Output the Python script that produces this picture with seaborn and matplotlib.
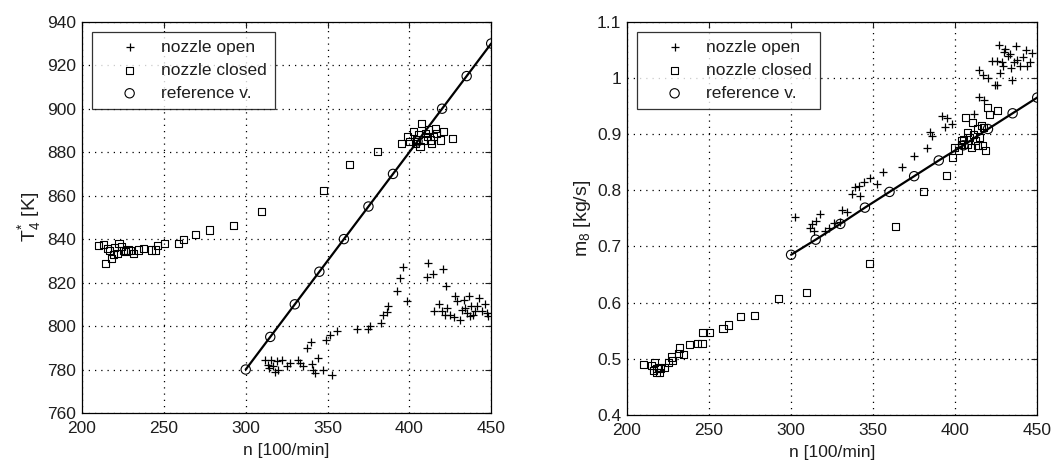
import matplotlib
matplotlib.use("Agg")
import matplotlib.pyplot as plt
import seaborn as sns

# ---- left panel: T4* vs n ----
t_open_n = [311.7, 313.8, 315.2, 316.4, 317.9, 318.9, 322.0, 325.0, 327.0, 331.7, 333.1, 335.2,
            337.2, 339.7, 340.3, 341.3, 342.3, 344.4, 347.4, 349.0, 352.5, 351.5, 355.6, 367.8,
            374.9, 375.9, 382.5, 384.1, 386.2, 387.2, 392.7, 394.4, 396.4, 398.8, 411.6, 411.0,
            414.7, 420.4, 422.4, 415.3, 418.4, 422.9, 424.9, 427.0, 428.0, 429.4, 431.1, 432.1,
            433.1, 434.1, 435.1, 436.7, 437.5, 438.8, 440.2, 441.2, 442.8, 444.2, 446.3, 447.3,
            448.3, 419.8, 421.8, 437.1, 314.5, 320.0]
t_open_T = [784.2, 782.2, 784.5, 781.4, 778.7, 783.7, 784.2, 781.7, 783.0, 784.2, 783.0, 781.4,
            789.9, 792.5, 782.7, 779.9, 778.4, 785.3, 779.9, 793.7, 777.6, 796.0, 797.5, 798.6,
            798.6, 800.1, 801.3, 805.2, 806.3, 809.3, 815.9, 822.0, 827.4, 811.3, 828.9, 822.5,
            824.0, 826.2, 818.5, 806.7, 810.2, 808.2, 805.2, 804.1, 813.6, 811.3, 802.6, 807.5,
            812.1, 808.2, 806.0, 813.6, 809.0, 805.2, 806.7, 809.0, 812.9, 806.7, 810.2, 806.0,
            804.7, 806.7, 805.2, 804.4, 780.5, 780.0]

t_closed_n = [210.0, 213.3, 214.5, 215.3, 216.9, 217.9, 219.0, 220.0, 221.4, 222.6, 224.0, 225.5,
              226.7, 228.1, 229.6, 231.2, 234.3, 237.3, 242.4, 245.0, 246.0, 250.2, 258.7, 261.8,
              269.5, 277.7, 292.8, 309.7, 347.4, 363.3, 380.7, 395.3, 398.8, 400.4, 402.5, 407.6,
              404.5, 406.5, 409.6, 411.6, 413.7, 415.7, 414.7, 416.7, 418.8, 420.8, 426.3, 403.7,
              408.8, 410.9, 412.9, 405.5]
t_closed_T = [836.9, 837.4, 828.6, 835.8, 834.8, 831.2, 832.8, 836.3, 833.5, 838.1, 836.6, 834.8,
              834.3, 835.0, 834.8, 833.5, 835.0, 835.8, 835.0, 835.0, 836.9, 838.1, 838.1, 840.0,
              842.0, 844.2, 846.4, 852.7, 862.2, 874.3, 880.2, 883.8, 887.1, 884.8, 889.4, 893.0,
              885.6, 882.5, 888.7, 890.2, 884.1, 891.0, 887.1, 888.7, 885.6, 889.4, 886.4, 884.0,
              885.6, 887.1, 885.6, 888.0]

ref_n = [300, 315, 330, 345, 360, 375, 390, 405, 420, 435, 450]
ref_T = [780, 795, 810, 825, 840, 855, 870, 885, 900, 915, 930]

# ---- right panel: m8 vs n ----
m_open_n = [302.6, 311.4, 312.8, 313.8, 315.4, 317.9, 320.9, 322.9, 326.4, 330.1, 331.1, 334.1,
            337.2, 339.2, 341.3, 342.3, 344.3, 348.4, 352.4, 356.1, 367.7, 374.8, 382.9, 384.6,
            386.0, 392.1, 395.1, 394.1, 398.2, 411.4, 414.4, 417.5, 414.8, 416.8, 420.3, 422.6,
            424.0, 425.6, 426.6, 428.6, 429.6, 430.6, 432.1, 433.7, 434.1, 435.8, 436.8, 437.8,
            439.8, 441.5, 442.9, 443.9, 445.9, 446.9, 425.6, 429.2, 434.7, 427.6]
m_open_m = [0.752, 0.732, 0.739, 0.727, 0.745, 0.757, 0.727, 0.733, 0.741, 0.744, 0.765, 0.762,
            0.793, 0.805, 0.808, 0.790, 0.814, 0.821, 0.811, 0.832, 0.842, 0.861, 0.876, 0.903,
            0.897, 0.933, 0.929, 0.912, 0.918, 0.936, 0.966, 0.960, 1.014, 1.005, 0.999, 1.030,
            0.987, 0.987, 1.059, 1.029, 1.047, 1.051, 1.039, 1.043, 1.017, 1.029, 1.056, 1.032,
            1.022, 1.038, 1.050, 1.022, 1.029, 1.045, 1.030, 1.022, 0.996, 1.009]

m_closed_n = [210.2, 215.2, 216.3, 217.9, 219.3, 216.7, 219.9, 220.7, 218.3, 222.8, 225.4, 227.4,
              228.0, 231.5, 232.1, 234.6, 238.2, 242.7, 245.7, 246.3, 250.4, 258.5, 262.0, 269.1,
              277.6, 292.5, 309.4, 348.0, 363.6, 380.9, 394.7, 398.2, 399.6, 402.2, 403.7, 405.3,
              406.3, 407.3, 407.7, 408.9, 409.8, 410.4, 411.4, 412.4, 413.4, 413.8, 415.0, 416.5,
              417.5, 418.5, 419.9, 421.1, 425.6, 415.8, 403.9]
m_closed_m = [0.489, 0.488, 0.479, 0.476, 0.485, 0.494, 0.475, 0.482, 0.482, 0.485, 0.494, 0.503,
              0.497, 0.509, 0.519, 0.507, 0.525, 0.527, 0.527, 0.547, 0.547, 0.554, 0.560, 0.575,
              0.577, 0.608, 0.618, 0.670, 0.735, 0.797, 0.827, 0.858, 0.876, 0.870, 0.882, 0.891,
              0.930, 0.903, 0.882, 0.894, 0.876, 0.921, 0.900, 0.888, 0.909, 0.879, 0.894, 0.879,
              0.912, 0.870, 0.947, 0.935, 0.942, 0.915, 0.888]

ref_m = [0.685, 0.712, 0.740, 0.769, 0.797, 0.825, 0.853, 0.880, 0.909, 0.937, 0.965]

sns.set_style("white")
plt.rcParams['font.family'] = ['Liberation Sans', 'DejaVu Sans']
plt.rcParams['mathtext.fontset'] = 'custom'
plt.rcParams['mathtext.rm'] = 'Liberation Sans'
plt.rcParams['mathtext.it'] = 'Liberation Sans'
FS = 12.5
TXT = '#1e1e1e'

fig = plt.figure(figsize=(10.6, 4.63), dpi=100)
ax1 = fig.add_axes([0.0774, 0.108, 0.386, 0.845])
ax2 = fig.add_axes([0.5915, 0.104, 0.387, 0.849])


def draw(ax, on, ov, cn, cv, rv, ylim, yticks, ylabel, yfmt):
    sns.lineplot(x=ref_n, y=rv, color='k', linewidth=1.6, ax=ax, legend=False)
    sns.scatterplot(x=on, y=ov, marker='+', s=34, color='k', linewidth=0.9,
                    label='nozzle open', ax=ax)
    sns.scatterplot(x=cn, y=cv, marker='s', s=26, facecolor='none', edgecolor='k',
                    linewidth=0.8, label='nozzle closed', ax=ax)
    sns.scatterplot(x=ref_n, y=rv, marker='o', s=45, facecolor='none', edgecolor='k',
                    linewidth=0.8, label='reference v.', ax=ax)
    ax.set_xlim(200, 450)
    ax.set_ylim(*ylim)
    ax.set_xticks([200, 250, 300, 350, 400, 450])
    ax.set_yticks(yticks)
    ax.set_yticklabels([yfmt(v) for v in yticks])
    ax.grid(True, linestyle=(0, (1, 4)), color='k', linewidth=0.9)
    ax.tick_params(direction='in', length=4, labelsize=FS, colors=TXT,
                   top=True, right=True)
    ax.tick_params(axis='x', pad=6)
    ax.tick_params(axis='y', pad=4)
    for sp in ax.spines.values():
        sp.set_color('k')
        sp.set_linewidth(0.9)
    ax.set_xlabel('n [100/min]', fontsize=FS, color=TXT, labelpad=5)
    ax.set_ylabel(ylabel, fontsize=14, color=TXT, labelpad=3)
    leg = ax.legend(loc='upper left', bbox_to_anchor=(0.024, 0.974), borderaxespad=0,
                    fontsize=FS, fancybox=False, frameon=True, edgecolor='k',
                    handlelength=3.45, handletextpad=0.1, labelspacing=0.45,
                    borderpad=0.45, scatterpoints=1)
    leg.get_frame().set_linewidth(0.9)
    for t in leg.get_texts():
        t.set_color(TXT)


draw(ax1, t_open_n, t_open_T, t_closed_n, t_closed_T, ref_T, (760, 940),
     list(range(760, 941, 20)), r'$\mathrm{T}^{*}_{4}$ [K]', lambda v: f'{v:d}')
draw(ax2, m_open_n, m_open_m, m_closed_n, m_closed_m, ref_m, (0.4, 1.1),
     [0.4, 0.5, 0.6, 0.7, 0.8, 0.9, 1.0, 1.1], r'$\mathrm{m}_{8}$ [kg/s]',
     lambda v: '1' if abs(v - 1) < 1e-9 else f'{v:.1f}')

fig.savefig('out.png', dpi=100)
